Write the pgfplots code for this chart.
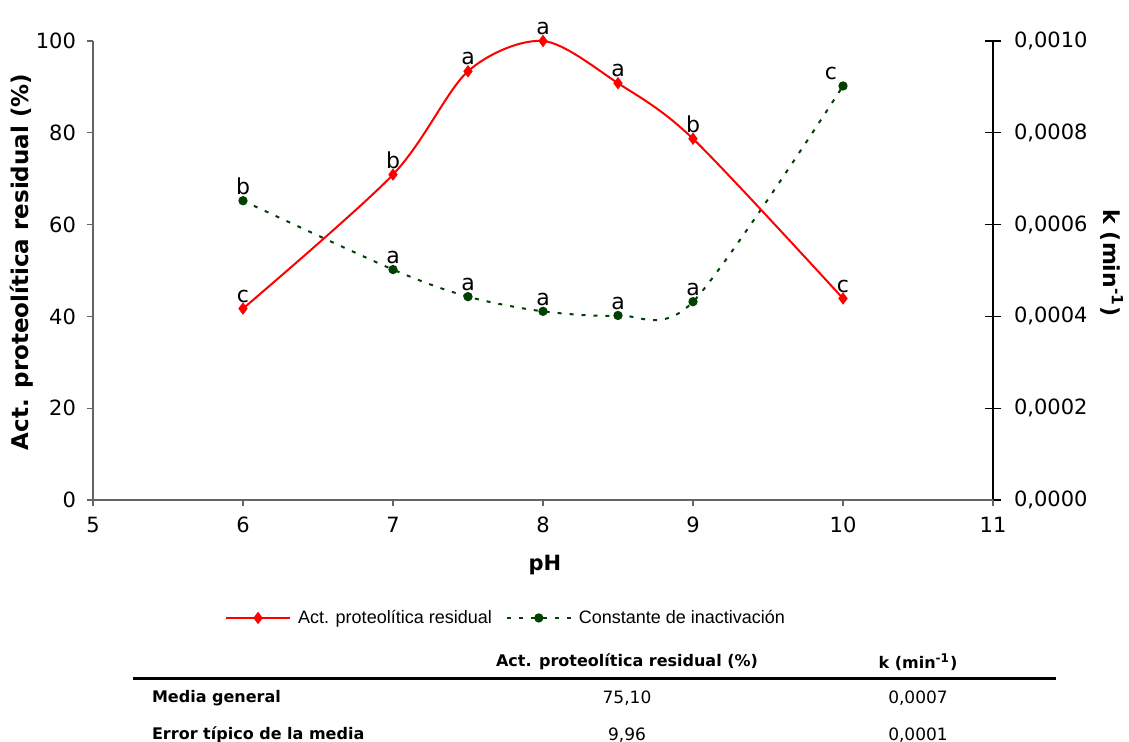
\documentclass[border=0pt]{standalone}
\usepackage{pgfplots}
\pgfplotsset{compat=1.18}
\usepackage{pgfplotstable}
\usepackage{fontspec}
\setmainfont{DejaVu Sans}
\newfontfamily\legendfont{Liberation Sans}
\newfontfamily\tablefont{DejaVu Sans}

\definecolor{actred}{RGB}{255,0,0}
\definecolor{kgreen}{RGB}{0,64,0}
\definecolor{axisgray}{RGB}{100,100,100}

% Residual proteolytic activity (%) vs pH, with significance letters
\pgfplotstableread{
ph   act    lbl
6    41.7   c
7    70.9   b
7.5  93.4   a
8    100.0  a
8.5  90.8   a
9    78.7   b
10   43.9   c
}\actdata

% Inactivation constant k (1/min) vs pH, with significance letters
\pgfplotstableread{
ph   k          lbl
6    0.000652   b
7    0.000502   a
7.5  0.000443   a
8    0.000411   a
8.5  0.000402   a
9    0.000432   a
10   0.000902   \llap{c\hspace{3pt}}
}\kdata

\pgfplotsset{
  every axis/.append style={
    scale only axis, width=450pt, height=229.5pt,
    at={(46.5pt,121pt)}, anchor=south west,
    xmin=5, xmax=11, clip=false,
    tick label style={font=\fontsize{10.5}{12}\selectfont},
    /pgf/number format/assume math mode=true,
  },
  letters/.style={
    nodes near coords,
    point meta=explicit symbolic,
    every node near coord/.append style={anchor=south, font=\fontsize{11}{13}\selectfont, inner sep=2.5pt, black},
  },
  legend image code/.code={%
    \draw[mark repeat=2,mark phase=2,#1] plot coordinates {(0pt,0pt) (16pt,0pt) (32pt,0pt)};},
}

\begin{document}
\begin{tikzpicture}[x=1pt,y=1pt]
\useasboundingbox (0,0) rectangle (564.5,371);
\clip (0,0) rectangle (564.5,371);

% right axis: inactivation constant
\begin{axis}[
  axis x line=none,
  axis y line*=right,
  ymin=0, ymax=0.001,
  ytick={0,0.0002,0.0004,0.0006,0.0008,0.001},
  scaled y ticks=false,
  yticklabel style={/pgf/number format/fixed, /pgf/number format/fixed zerofill,
    /pgf/number format/precision=4, /pgf/number format/use comma, xshift=3pt},
  tick align=center, major tick length=8pt,
  y axis line style={black, line width=0.6pt},
  ytick style={black, line width=0.6pt},
]
\addplot[kgreen, line width=1pt, dash pattern=on 2pt off 4pt, smooth,
  mark=*, mark size=1.8pt, mark options={solid, fill=kgreen}, letters]
  table[x=ph, y=k, meta=lbl] {\kdata};
\end{axis}

% left axis: residual proteolytic activity
\begin{axis}[
  axis x line*=bottom,
  axis y line*=left,
  ymin=0, ymax=100,
  xtick={5,6,7,8,9,10,11},
  ytick={0,20,40,60,80,100},
  tick align=outside, major tick length=3pt,
  axis line style={axisgray, line width=0.7pt},
  tick style={axisgray, line width=0.6pt},
  yticklabel style={xshift=-2pt},
  xticklabel style={yshift=-2pt},
  legend columns=2,
  legend style={at={(axis description cs:0.46,-0.257)}, anchor=center, draw=none,
    font=\legendfont\fontsize{9}{11}\selectfont,
    column sep=1.5pt, /tikz/every even column/.append style={column sep=5pt}},
]
\addplot[actred, line width=1pt, smooth,
  mark=diamond*, mark size=2.3pt, mark options={fill=actred}, letters]
  table[x=ph, y=act, meta=lbl] {\actdata};
\addlegendentry{Act. proteolítica residual}
\addlegendimage{kgreen, line width=1pt, dash pattern=on 2pt off 4pt, mark=*, mark size=1.8pt, mark options={solid, fill=kgreen}}
\addlegendentry{Constante de inactivación}
\end{axis}

% axis titles
\node[rotate=90, font=\bfseries\fontsize{11.5}{13}\selectfont] at (11,240) {Act. proteolítica residual (\%)};
\node[rotate=-90, font=\bfseries\fontsize{11}{13}\selectfont] at (556,239.5) {k (min\textsuperscript{-1})};
\node[font=\bfseries\fontsize{10.5}{12}\selectfont] at (272.5,88.5) {pH};

% summary table
\begin{scope}[every node/.style={font=\tablefont\fontsize{8.5}{10}\selectfont}]
\node[font=\tablefont\bfseries\fontsize{8}{10}\selectfont] at (313.5,40) {Act. proteolítica residual (\%)};
\node[font=\tablefont\bfseries\fontsize{8}{10}\selectfont] at (459,40) {k (min\textsuperscript{-1})};
\draw[line width=1.5pt] (66.5,31.5) -- (528,31.5);
\node[anchor=west, font=\tablefont\bfseries\fontsize{8}{10}\selectfont] at (72.5,22) {Media general};
\node at (313.5,22) {75,10};
\node at (459,22) {0,0007};
\node[anchor=west, font=\tablefont\bfseries\fontsize{8}{10}\selectfont] at (72.5,3.5) {Error típico de la media};
\node at (313.5,3.5) {9,96};
\node at (459,3.5) {0,0001};
\end{scope}
\end{tikzpicture}
\end{document}
